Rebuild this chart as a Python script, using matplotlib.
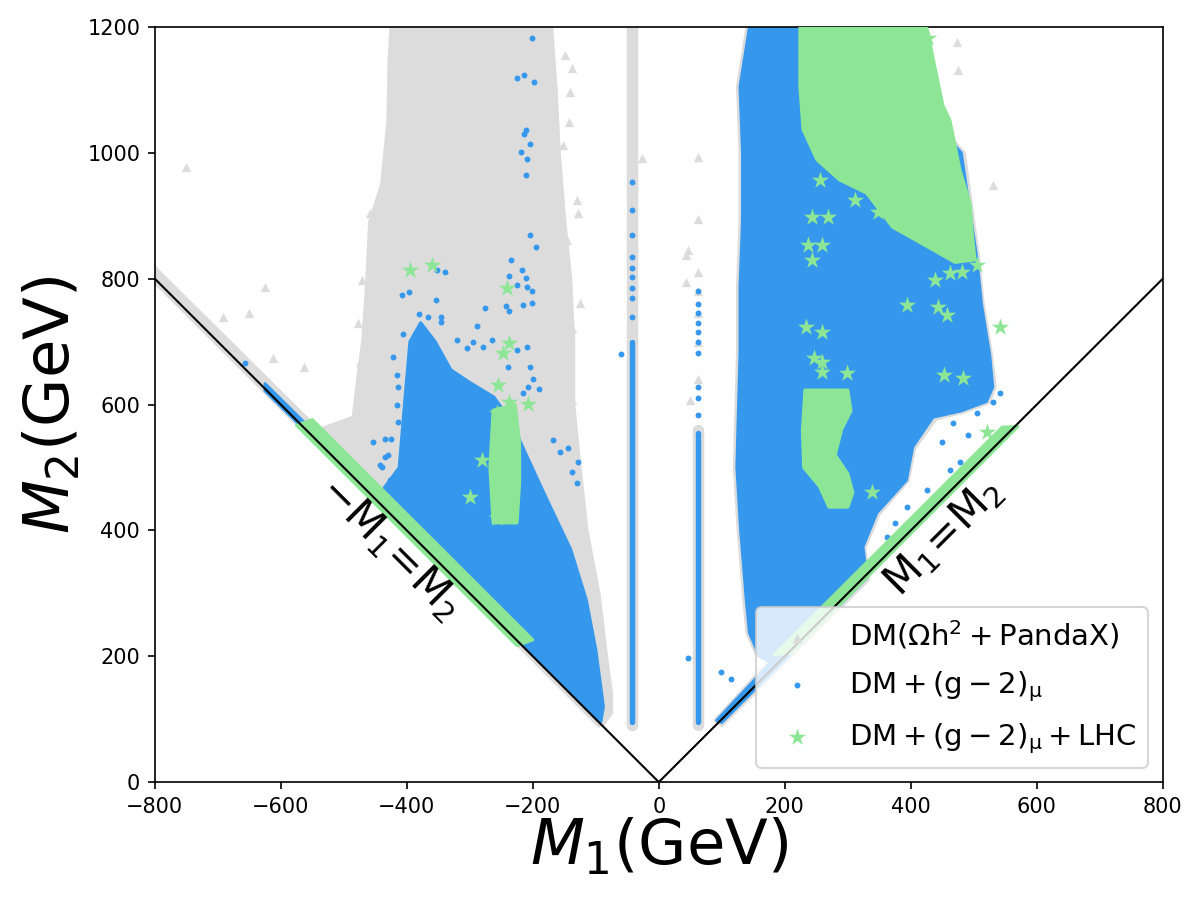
import numpy as np
import matplotlib.pyplot as plt

# ---- colours ----
grey = '#dcdcdc'
blue = '#3598ec'
green = '#8ce696'

# ---- dense regions (M1, M2) ----
grey_left = [(-425, 1200), (-170, 1200), (-163, 1100), (-158, 1000), (-150, 900),
             (-140, 800), (-135, 700), (-135, 600), (-125, 500), (-114, 400),
             (-95, 300), (-83, 200), (-75, 140), (-75, 110), (-88, 92), (-95, 89),
             (-800, 794), (-800, 818), (-540, 560), (-485, 580), (-478, 640),
             (-470, 700), (-464, 790), (-459, 890), (-440, 950), (-430, 1050),
             (-428, 1150)]
blue_left = [(-395, 700), (-378, 730), (-355, 700), (-330, 655), (-300, 635),
             (-262, 612), (-235, 575), (-215, 530), (-178, 450), (-140, 370),
             (-115, 289), (-100, 210), (-88, 120), (-92, 96), (-625, 622),
             (-625, 633), (-445, 455), (-412, 500), (-407, 560), (-402, 620)]
green_left_band = [(-575, 567), (-550, 576), (-200, 226), (-225, 217)]
green_left_col = [(-263, 591), (-228, 600), (-221, 540), (-221, 475), (-225, 412),
                  (-263, 412), (-268, 500)]

grey_right = [(140, 1200), (305, 1200), (485, 1000), (508, 830), (515, 760),
              (528, 680), (534, 628), (524, 603), (484, 588), (440, 577),
              (406, 530), (396, 479), (349, 425), (327, 371), (333, 322),
              (100, 90), (89, 98), (175, 192), (155, 203), (140, 237),
              (135, 289), (126, 400), (120, 500), (122, 575), (125, 682),
              (125, 787), (129, 893), (129, 1000), (125, 1105)]
blue_right = [(144, 1200), (300, 1200), (480, 1000), (505, 830), (512, 760),
              (525, 680), (530, 628), (520, 605), (480, 590), (435, 580),
              (403, 533), (393, 480), (346, 428), (324, 374), (330, 325),
              (100, 95), (92, 98), (178, 190), (160, 200), (144, 237),
              (139, 289), (130, 400), (124, 500), (126, 575), (129, 682),
              (129, 787), (133, 893), (133, 1000), (129, 1105)]
green_right_blob = [(224, 1200), (425, 1200), (451, 1075), (462, 1052), (478, 973),
                    (494, 920), (498, 866), (502, 830), (470, 826), (435, 846),
                    (371, 882), (330, 936), (287, 957), (251, 989), (229, 1037),
                    (224, 1105)]
green_right_band = [(183, 202), (545, 564), (570, 565), (210, 205)]
green_right_col = [(232, 623), (300, 623), (305, 590), (290, 560), (280, 520),
                   (300, 490), (308, 460), (300, 437), (270, 437), (255, 470),
                   (230, 500), (228, 560)]

# ---- vertical strips of points ----
strip_m1 = [-43, 63]
strip_grey_top = [1200, 560]
strip_blue_top = [700, 555]
strip_bottom = 95

# ---- isolated points ----
grey_pts_m1 = [-751, -625, -692, -651, -613, -563, -149, -138, -141, -143, -152,
               -130, -129, -146, -125, -138, -138, -471, -478, -475, -459,
               473, 475, 530, 43, 43, -27, 63, 63, 46, 63, 63, 63, 49, 63, 63]
grey_pts_m2 = [978, 787, 739, 745, 674, 660, 1156, 1135, 1097, 1049, 1013,
               925, 905, 862, 761, 722, 607, 798, 730, 668, 905,
               1176, 1132, 949, 838, 795, 992, 994, 895, 846, 811, 746, 700, 607, 640, 780]

blue_pts_m1 = [-202, -225, -214, -198, -211, -214, -205, -219, -209, -211, -205,
               -195, -235, -217, -238, -211, -225, -209, -202, -243, -237, -216,
               -202, -408, -397, -352, -340, -354, -381, -367, -346, -346, -289,
               -276, -406, -386, -657, -60, -430, -425, -440, -200, -190, -240,
               -321, -295, -279, -265, -305, -210, -225, -205, -208, -216,
               -422, -416, -414, -416, -414, -454, -435, -435, -443, -427, -408,
               -168, -157, -144, -129, -138, -130,
               46, 98, 114, 541, 530, 505, 490, 449, 467, 462, 478, 425, 394, 375, 362,
               -43, -43, -43, -43, -43, -43, -43, -43, -43,
               63, 63, 63, 63, 63, 63, 63, 63, 63, 63]
blue_pts_m2 = [1183, 1119, 1124, 1113, 1037, 1030, 1014, 1002, 990, 965, 870,
               851, 830, 814, 804, 801, 790, 787, 781, 757, 749, 758,
               761, 774, 779, 814, 811, 766, 744, 739, 739, 731, 725,
               754, 712, 711, 666, 680, 520, 545, 500, 640, 625, 660,
               703, 700, 692, 703, 690, 692, 687, 660, 628, 618,
               676, 647, 628, 600, 572, 540, 546, 517, 504, 480, 467,
               544, 525, 531, 509, 493, 475,
               197, 175, 164, 618, 604, 586, 552, 541, 571, 496, 509, 464, 437, 412, 390,
               954, 909, 870, 835, 817, 803, 785, 769, 739,
               780, 760, 746, 730, 715, 700, 682, 628, 610, 583]

star_m1 = [-395, -360, -241, -237, -248, -256, -237, -208, -257, -281, -300, -257, -237,
           256, 311, 348, 243, 269, 237, 259, 243, 438, 462, 481, 505, 394, 443, 457,
           541, 233, 259, 246, 259, 259, 298, 452, 483, 338, 521, 260, 427]
star_m2 = [814, 822, 785, 698, 682, 631, 604, 601, 587, 512, 453, 420, 421,
           957, 925, 906, 898, 898, 854, 854, 830, 798, 809, 811, 822, 758, 755, 742,
           723, 723, 716, 674, 668, 652, 650, 647, 642, 461, 556, 607, 1183]

labels = [r'$\mathrm{DM(\Omega h^2+PandaX)}$',
          r'$\mathrm{DM+(g-2)_\mu}$',
          r'$\mathrm{DM+(g-2)_\mu+LHC}$']


def poly(ax, pts, color, z):
    xs, ys = zip(*pts)
    ax.fill(xs, ys, color=color, lw=1.5, joinstyle='round', zorder=z)


fig = plt.figure(figsize=(8, 6), dpi=150)
ax = fig.add_axes([0.129, 0.131, 0.84, 0.839])

# grey layer
poly(ax, grey_left, grey, 1)
poly(ax, grey_right, grey, 1)
for m1, top in zip(strip_m1, strip_grey_top):
    ax.plot([m1, m1], [strip_bottom - 5, top], color=grey, lw=5.5,
            solid_capstyle='round', zorder=1)
ax.scatter(grey_pts_m1, grey_pts_m2, marker='^', s=20, color=grey, lw=0,
           zorder=1, label=labels[0])

# blue layer
poly(ax, blue_left, blue, 2)
poly(ax, blue_right, blue, 2)
for m1, top in zip(strip_m1, strip_blue_top):
    ax.plot([m1, m1], [strip_bottom, top], color=blue, lw=2.6,
            solid_capstyle='round', zorder=2)
ax.scatter(blue_pts_m1, blue_pts_m2, marker='o', s=8, color=blue, lw=0,
           zorder=2, label=labels[1])

# green layer
for p in [green_left_band, green_left_col, green_right_blob, green_right_band,
          green_right_col]:
    poly(ax, p, green, 3)
ax.scatter(star_m1, star_m2, marker='*', s=75, color=green, lw=0,
           zorder=3, label=labels[2])

# M1 = +-M2 lines
ax.plot([-800, 0, 800], [800, 0, 800], color='black', lw=1, zorder=4)
ax.text(-427, 372, r'$\mathrm{-M_1\!=\!M_2}$', fontsize=20, rotation=-45,
        ha='center', va='center', zorder=5)
ax.text(451, 390, r'$\mathrm{M_1\!=\!M_2}$', fontsize=20, rotation=45,
        ha='center', va='center', zorder=5)

ax.set_xlim(-800, 800)
ax.set_ylim(0, 1200)
ax.set_xticks(np.arange(-800, 801, 200))
ax.set_yticks(np.arange(0, 1201, 200))
ax.set_xlabel(r'$M_1$(GeV)', fontsize=30, labelpad=0)
ax.set_ylabel(r'$M_2$(GeV)', fontsize=30, labelpad=2)

ax.legend(loc='lower right', fontsize=14, labelspacing=0.6)

fig.savefig('out.png', dpi=150)
